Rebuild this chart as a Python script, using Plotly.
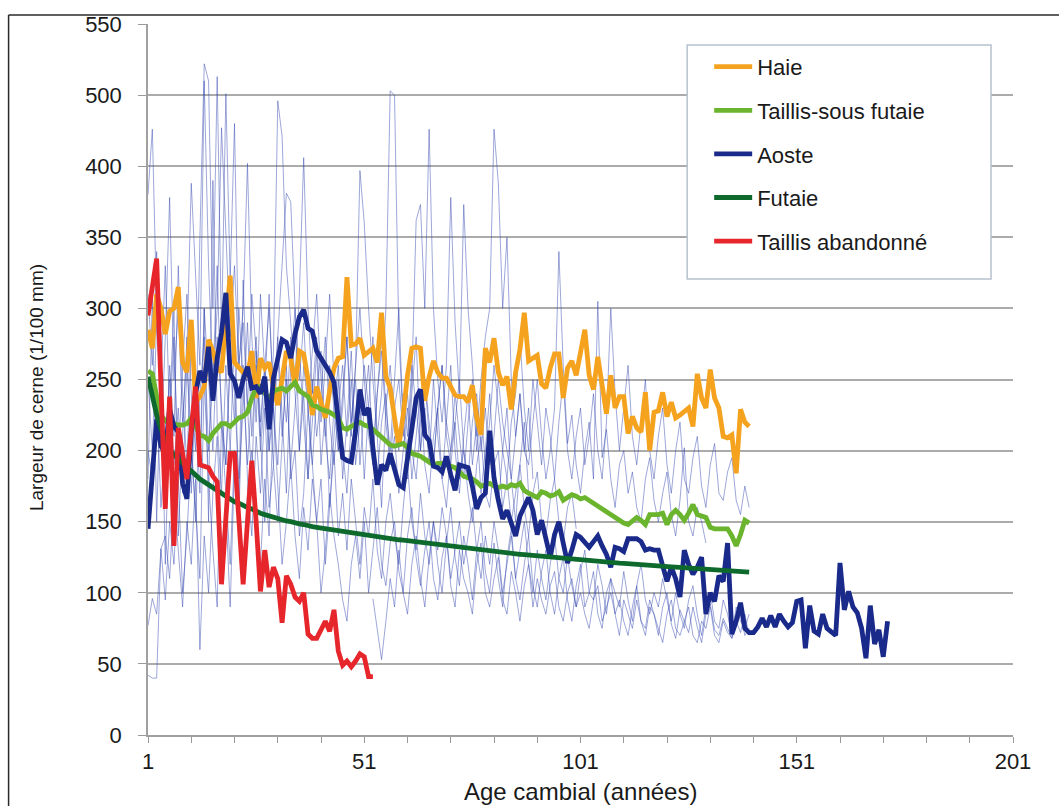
import plotly.graph_objects as go

# ---------------- data (values in 1/100 mm, index = cambial age starting at 1) ----------------
haie = [285, 272, 310, 300, 282, 298, 300, 315, 262, 255, 292, 234, 238, 245, 278, 270, 258, 255, 290, 323,
        262, 258, 255, 253, 270, 237, 265, 258, 262, 245, 232, 250, 270, 265, 245, 270, 268, 250, 225, 245,
        235, 223, 242, 258, 265, 266, 322, 274, 275, 279, 267, 270, 272, 262, 297, 252, 244, 223, 203, 225,
        253, 272, 273, 272, 235, 252, 263, 255, 251, 251, 245, 239, 238, 238, 234, 246, 223, 211, 272, 262,
        279, 255, 246, 252, 229, 255, 271, 297, 263, 265, 267, 247, 244, 258, 268, 268, 237, 258, 263, 253,
        270, 285, 253, 243, 266, 244, 226, 253, 230, 238, 238, 212, 224, 216, 213, 241, 200, 227, 228, 241,
        224, 234, 223, 225, 228, 230, 217, 254, 237, 230, 257, 237, 230, 210, 209, 211, 184, 229, 220, 217]

taillis_sous_futaie = [256, 254, 238, 225, 221, 219, 219, 218, 218, 219, 223, 216, 211, 210, 207, 212, 216, 219, 219, 217,
                       220, 223, 224, 227, 237, 244, 245, 240, 236, 242, 243, 244, 242, 245, 248, 242, 240, 238, 232, 231,
                       229, 228, 227, 225, 223, 216, 215, 217, 219, 220, 218, 217, 215, 212, 209, 206, 204, 203, 204, 205,
                       202, 198, 197, 196, 194, 192, 190, 191, 191, 190, 189, 188, 185, 182, 181, 180, 178, 175, 176, 177,
                       175, 174, 175, 174, 176, 175, 177, 172, 170, 168, 167, 171, 170, 168, 169, 171, 165, 167, 169, 168,
                       166, 167, 165, 163, 160, 159, 157, 155, 153, 151, 149, 148, 150, 153, 151, 148, 155, 155, 155, 156,
                       148, 155, 158, 155, 151, 156, 162, 155, 154, 153, 146, 145, 145, 145, 145, 140, 133, 141, 151, 149]

aoste = [145, 185, 222, 203, 199, 229, 217, 213, 177, 166, 213, 240, 256, 248, 273, 235, 265, 283, 311, 254,
         249, 237, 250, 259, 244, 245, 240, 252, 215, 251, 265, 278, 276, 265, 282, 294, 299, 286, 284, 270,
         265, 260, 255, 248, 223, 195, 193, 192, 214, 243, 225, 230, 202, 176, 190, 186, 198, 186, 176, 174,
         192, 215, 237, 243, 211, 207, 189, 188, 185, 196, 183, 172, 190, 189, 188, 175, 159, 167, 170, 214,
         181, 165, 152, 158, 150, 140, 154, 160, 167, 158, 141, 151, 138, 125, 141, 150, 135, 121, 130, 141,
         139, 136, 132, 136, 140, 133, 127, 118, 132, 131, 129, 138, 138, 138, 136, 130, 131, 130, 130, 120,
         108, 118, 110, 97, 130, 120, 113, 118, 125, 85, 100, 94, 112, 108, 135, 71, 80, 93, 75, 72,
         72, 76, 82, 76, 84, 76, 85, 80, 76, 79, 94, 95, 61, 91, 73, 71, 85, 75, 72, 70,
         121, 88, 101, 90, 86, 75, 54, 91, 64, 74, 55, 80]

futaie = [252, 238, 225, 215, 207, 201, 197, 194, 191, 188, 185, 182, 180, 178, 176, 174, 172, 170, 168, 166,
          164, 163, 161, 160, 159, 157, 156, 155, 154, 153, 152, 151.5, 150.5, 150, 149, 148.5, 148, 147, 146.5, 146,
          145.5, 145, 144.5, 144, 143.5, 143, 142.5, 142, 141.5, 141, 140.5, 140, 139.6, 139.2, 138.8, 138.4, 138, 137.7, 137.3, 137,
          136.6, 136.2, 135.8, 135.4, 135, 134.6, 134.2, 133.8, 133.4, 133, 132.6, 132.2, 131.8, 131.4, 131, 130.6, 130.3, 130, 129.6, 129.3,
          129, 128.6, 128.3, 128, 127.7, 127.4, 127.1, 126.8, 126.5, 126.2, 125.9, 125.6, 125.3, 125, 124.7, 124.5, 124.2, 123.9, 123.7, 123.4,
          123.1, 122.9, 122.6, 122.4, 122.1, 121.9, 121.6, 121.4, 121.1, 120.9, 120.7, 120.4, 120.2, 120, 119.7, 119.5, 119.3, 119.1, 118.9, 118.6,
          118.4, 118.2, 118, 117.8, 117.6, 117.4, 117.2, 117, 116.8, 116.6, 116.4, 116.2, 116, 115.8, 115.6, 115.4, 115.2, 115, 114.8, 114.6]

taillis_abandonne = [295, 315, 335, 245, 159, 238, 133, 216, 200, 180, 215, 245, 190, 189, 188, 182, 178, 106, 150, 198,
                     198, 150, 106, 150, 193, 150, 101, 130, 104, 118, 110, 79, 112, 106, 97, 94, 100, 71, 68, 68,
                     74, 80, 73, 88, 59, 49, 52, 48, 52, 57, 55, 41, 41]

# individual trees (thin lines): (first age, values)
arbre_1 = (1, [380, 426, 300, 250, 330, 220, 280, 190, 260, 310, 240, 200, 350, 472, 460, 300, 463, 280, 451, 320,
               430, 260, 300, 402, 280, 220, 310, 250, 200, 270, 446, 421, 330, 290, 250, 310, 406, 300, 240, 280,
               220, 260, 310, 250, 200, 230, 280, 210, 260, 397, 360, 300, 250, 210, 240, 300, 453, 450, 280, 220,
               200, 250, 362, 373, 300, 426, 300, 250, 220, 260, 378, 290, 240, 373, 300, 260, 210, 250, 280, 300,
               426, 388, 300, 350, 250, 210, 240, 200, 230, 180])
arbre_2 = (1, [42, 40, 40, 131, 95, 150, 120, 180, 100, 140, 200, 160, 110, 250, 180, 130, 90, 220, 170, 120,
               200, 150, 260, 180, 140, 210, 170, 230, 160, 190, 150, 210, 260, 180, 200, 140, 170, 230, 190, 150,
               180, 120, 160, 200, 140, 170, 130, 180, 150, 120, 160, 140, 180, 130, 110, 150, 170, 140, 120, 160,
               190, 150, 130, 170, 140, 120, 150, 130, 160, 140, 110, 130, 150, 120, 140, 160, 130, 110, 140, 120,
               150, 130, 100, 120, 140, 110, 130, 150, 120, 100, 130, 110, 95, 120, 140, 110, 100, 125, 105, 90,
               115, 130, 100, 95, 120, 105, 85, 110, 100, 90, 115, 95, 80, 105, 120, 95, 85, 100, 90, 110,
               95, 80, 100, 85, 75, 95, 105, 85, 70, 90, 100, 80, 75, 95, 85, 70, 90, 80, 75, 85])
arbre_3 = (1, [77, 96, 85, 131, 140, 110, 170, 130, 90, 150, 120, 180, 60, 140, 100, 170, 210, 130, 160, 90,
               190, 140, 110, 170, 200, 150, 120, 180, 140, 230, 170, 120, 150, 190, 140, 110, 160, 130, 180, 150,
               100, 130, 170, 140, 120, 95, 80, 120, 140, 110, 150, 100, 130, 160, 120, 105, 135, 150, 115, 100,
               140, 160, 125, 105, 130, 150, 110, 95, 125, 140, 105, 90, 130, 110, 100, 85, 120, 135, 100, 90,
               110, 125, 95, 85, 115, 100, 80, 105, 120, 90, 110, 95, 85, 105, 115, 90, 80, 100, 110, 90,
               100, 85, 75, 95, 105, 80, 90, 100, 85, 70, 95, 85, 75, 95, 80, 70, 90, 85, 75, 65,
               85, 95, 75, 70, 80, 90, 70, 65, 80, 75, 90, 70, 65, 80, 72, 68, 78, 85, 70, 75])
arbre_4 = (1, [310, 260, 340, 200, 280, 378, 250, 300, 220, 270, 388, 320, 260, 460, 330, 250, 300, 427, 350, 280,
               330, 260, 290, 230, 310, 270, 210, 260, 300, 240, 280, 330, 381, 375, 300, 250, 290, 230, 270, 310,
               250, 210, 260, 230, 200, 240, 280, 220, 260, 300, 250, 210, 190, 240, 280, 230, 260, 220, 200, 240,
               210, 260, 230, 200, 250, 220, 190, 230, 260, 210, 190, 220, 250, 200, 180, 220, 240, 200, 230, 190,
               210, 250, 220, 200, 180, 210, 240, 200, 190, 220, 250, 210, 180, 200, 230, 340, 260, 205, 225, 190,
               170, 200, 220, 180, 305, 195, 215, 180, 160, 190, 200, 170, 185, 160, 150, 180, 195, 165, 150, 170,
               185, 155, 140, 165, 202, 150, 140, 160, 150, 135])
arbre_5 = (1, [200, 180, 240, 160, 210, 250, 190, 230, 170, 260, 210, 150, 240, 280, 200, 250, 330, 220, 190, 270,
               240, 180, 230, 290, 210, 260, 200, 240, 310, 230, 190, 250, 220, 280, 240, 200, 260, 230, 190, 240,
               270, 210, 180, 230, 260, 200, 170, 220, 250, 190, 230, 260, 200, 180, 220, 240, 190, 210, 170, 200,
               230, 180, 210, 240, 190, 170, 210, 230, 180, 160, 200, 220, 180, 200, 170, 150, 190, 210, 170, 160,
               190, 200, 160, 180, 150, 170, 190, 160, 140, 170, 185, 150, 140, 165, 180, 150, 135, 160, 170, 145])
arbre_6 = (53, [96, 75, 53, 80, 110, 90, 130, 100, 85, 120, 140, 110, 90, 125, 150, 120, 100, 135, 160, 125,
                105, 140, 120, 95, 130, 150, 115, 100, 135, 110, 90, 125, 145, 110, 95, 120, 140, 105, 90, 115,
                130, 100, 85, 110, 125, 95, 80, 105, 120, 90, 100, 115, 85, 75, 100, 110, 85, 95, 80, 70,
                90, 105, 80, 75, 95, 85, 70, 90, 100, 78, 68, 88, 80, 72, 90, 76, 65, 85, 92, 74,
                70, 82, 75, 68, 80, 72, 85, 70])
arbre_7 = (1, [180, 310, 150, 260, 120, 230, 300, 140, 210, 280, 170, 240, 190, 300, 150, 390, 220, 170, 260, 200,
               280, 160, 320, 230, 180, 270, 210, 150, 240, 190, 280, 220, 170, 260, 300, 200, 240, 180, 220, 270,
               190, 230, 160, 210, 250, 180, 220, 270, 200, 240, 180, 230, 280, 210, 160, 230, 200, 250, 300, 220,
               180, 240, 280, 200, 230, 190, 250, 210, 180, 220, 260, 200, 170, 210, 240, 190, 220, 170, 200, 240,
               190, 160, 200, 230, 180, 150, 190, 220, 170, 160])
arbre_8 = (1, [250, 200, 290, 230, 180, 260, 210, 330, 240, 190, 280, 230, 170, 300, 250, 200, 280, 230, 190, 260,
               220, 300, 250, 190, 240, 280, 220, 260, 200, 230, 270, 210, 250, 190, 230, 270, 220, 180, 250, 210,
               240, 280, 220, 190, 230, 260, 210, 250, 190, 220, 260, 230, 200, 240, 270, 220, 190, 230, 250, 210,
               240, 200, 180, 220, 250, 210, 190, 230, 260, 220, 200, 240, 210, 180, 220, 250, 200, 230, 190, 220,
               260, 230, 200, 180, 220, 240, 280, 230, 200, 250, 220, 190, 230, 210, 180, 220, 250, 200, 180, 210,
               230, 190, 210, 240, 200, 180, 220, 300, 240, 200, 230, 260, 210, 190, 220, 250, 200, 180, 210, 230,
               190, 170, 200, 220, 180, 170, 195, 210, 175, 160, 190, 205, 170, 165, 185, 195, 165, 155, 175, 160])

arbres = [arbre_1, arbre_2, arbre_3, arbre_4, arbre_5, arbre_6, arbre_7, arbre_8]

series = [
    ("Haie", haie, "#F5A31F"),
    ("Taillis-sous futaie", taillis_sous_futaie, "#6AB42E"),
    ("Aoste", aoste, "#1A2A8A"),
    ("Futaie", futaie, "#0E6A2C"),
    ("Taillis abandonné", taillis_abandonne, "#E6262B"),
]

y_tickvals = [0, 50, 100, 150, 200, 250, 300, 350, 400, 450, 500]
y_ticktext = ["0", "50", "100", "150", "200", "250", "300", "350", "400", "500", "550"]
x_tickvals = [1, 51, 101, 151, 201]

FONT = "Liberation Sans, Arial, sans-serif"

fig = go.Figure()
for start, vals in arbres:
    fig.add_trace(go.Scatter(
        x=list(range(start, start + len(vals))), y=vals, mode="lines",
        line=dict(color="rgba(50,70,175,0.6)", width=0.8),
        showlegend=False, hoverinfo="skip"))

for i, (name, vals, col) in enumerate(series):
    fig.add_trace(go.Scatter(
        x=list(range(1, len(vals) + 1)), y=vals, mode="lines", name=name,
        legendgroup=f"g{i}",
        line=dict(color=col, width=4.8)))

# plot area pixel geometry
L, R, T, B = 147.5, 1013.0, 21.0, 735.0
W, H = R - L, B - T
def px(x):
    return (x - L) / W
def py(y):
    return (B - y) / H

shapes = [
    # outer frame (top + left)
    dict(type="line", xref="paper", yref="paper", x0=px(8), x1=px(1070), y0=py(12), y1=py(12),
         line=dict(color="#2a2a2a", width=1.5)),
    dict(type="line", xref="paper", yref="paper", x0=px(8), x1=px(8), y0=py(12), y1=py(820),
         line=dict(color="#2a2a2a", width=1.5)),
    # legend box
    dict(type="rect", xref="paper", yref="paper", x0=px(687), x1=px(991), y0=py(277), y1=py(42),
         line=dict(color="#B7C1CD", width=1.5), fillcolor="white", layer="above"),
]

annotations = [
    dict(text="Largeur de cerne (1/100 mm)", xref="paper", yref="paper", x=px(36), y=py(386),
         textangle=-90, showarrow=False, font=dict(family=FONT, size=19, color="#1a1a1a"),
         xanchor="center", yanchor="middle"),
    dict(text="Age cambial (années)", xref="paper", yref="paper", x=px(580), y=py(792),
         showarrow=False, font=dict(family=FONT, size=24, color="#1a1a1a"),
         xanchor="center", yanchor="middle"),
]

fig.update_layout(
    width=1059, height=806, autosize=False,
    margin=dict(l=L, r=1059 - R, t=T, b=806 - B, pad=0),
    paper_bgcolor="white", plot_bgcolor="white",
    font=dict(family=FONT, color="#1a1a1a"),
    shapes=shapes, annotations=annotations,
    showlegend=True,
    legend=dict(x=px(709), y=py(43), xanchor="left", yanchor="top",
                bgcolor="rgba(0,0,0,0)", borderwidth=0,
                font=dict(family=FONT, size=22, color="#1a1a1a"),
                tracegroupgap=12, itemwidth=38),
    xaxis=dict(range=[1, 201], tickvals=x_tickvals, ticktext=[str(v) for v in x_tickvals],
               ticks="outside", ticklen=6, tickcolor="#9a9a9a", tickwidth=1,
               minor=dict(tickvals=list(range(1, 202, 10)), ticks="outside", ticklen=6,
                          tickcolor="#9a9a9a", tickwidth=1, showgrid=False),
               showline=True, linecolor="#a0a0a0", linewidth=1.5,
               showgrid=False, zeroline=False,
               tickfont=dict(family=FONT, size=22, color="#1a1a1a"), ticklabelstandoff=0),
    yaxis=dict(range=[0, 500], tickvals=y_tickvals, ticktext=y_ticktext,
               ticks="outside", ticklen=8, tickcolor="#9a9a9a", tickwidth=1,
               showline=True, linecolor="#a0a0a0", linewidth=1.5,
               showgrid=True, gridcolor="#ababab", gridwidth=1.5, zeroline=False,
               tickfont=dict(family=FONT, size=22, color="#1a1a1a"), ticklabelstandoff=12),
)

fig.write_html("out.html", config={"displayModeBar": False},
               post_script="document.body.style.margin='0px';")
